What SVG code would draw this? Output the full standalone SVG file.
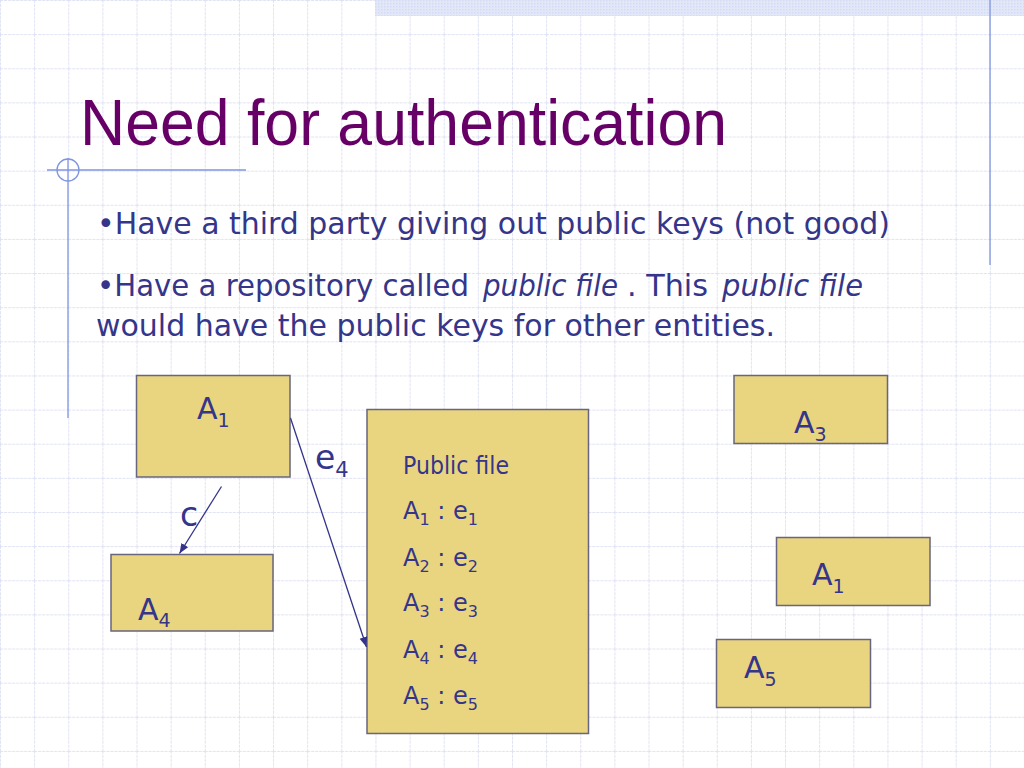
<svg xmlns="http://www.w3.org/2000/svg" width="1024" height="768" viewBox="0 0 1024 768">
  <defs>
    <pattern id="grid" patternUnits="userSpaceOnUse" width="34.133" height="34.133">
      <line x1="0" y1="0.5" x2="34.133" y2="0.5" stroke="#dfe2f4" stroke-width="1" stroke-dasharray="3 1"/>
      <line x1="0.5" y1="0" x2="0.5" y2="34.133" stroke="#dfe2f4" stroke-width="1" stroke-dasharray="3 1"/>
    </pattern>
    <pattern id="dots" patternUnits="userSpaceOnUse" width="3" height="3">
      <rect width="3" height="3" fill="#e3e8f9"/>
      <rect width="1.5" height="1.5" fill="#d3dbf5"/>
    </pattern>
    <marker id="arrow" markerUnits="userSpaceOnUse" markerWidth="12" markerHeight="10" refX="10" refY="4" orient="auto">
      <path d="M0,0 L10,4 L0,8 Z" fill="#33338a"/>
    </marker>
    <style>
      .txt { font-family: "DejaVu Sans", "Noto Sans", sans-serif; fill: #35358a; }
      .title { font-family: "Liberation Sans", "DejaVu Sans", sans-serif; fill: #660066; }
      .box { fill: #e9d47f; stroke: #67667e; stroke-width: 1.5; }
      .lbl { font-size: 30px; }
      .sub { font-size: 19px; }
      .pf { font-size: 24px; }
      .pfs { font-size: 16px; }
      .deco { stroke: #7f95e0; stroke-width: 1.3; fill: none; }
      .conn { stroke: #33338a; stroke-width: 1.3; fill: none; }
    </style>
  </defs>

  <g id="background">
    <rect width="1024" height="768" fill="#ffffff"/>
    <rect width="1024" height="768" fill="url(#grid)"/>
    <rect x="375" y="0" width="649" height="16" fill="url(#dots)"/>
    <line class="deco" x1="990" y1="0" x2="990" y2="265"/>
    <line class="deco" x1="47" y1="170" x2="246" y2="170"/>
    <line class="deco" x1="68" y1="158" x2="68" y2="418"/>
    <circle class="deco" cx="68" cy="170" r="11"/>
  </g>

  <g id="heading">
    <text class="title" x="80" y="145" font-size="64" textLength="647" lengthAdjust="spacingAndGlyphs">Need for authentication</text>
    <text class="txt" x="97" y="234" font-size="31" textLength="793" lengthAdjust="spacingAndGlyphs">•Have a third party giving out public keys (not good)</text>
    <text class="txt" x="97" y="296" font-size="31" textLength="372" lengthAdjust="spacingAndGlyphs">•Have a repository called</text>
    <text class="txt" x="483" y="296" font-size="31" font-style="italic" textLength="135" lengthAdjust="spacingAndGlyphs">public file</text>
    <text class="txt" x="627" y="296" font-size="31" textLength="81" lengthAdjust="spacingAndGlyphs">. This</text>
    <text class="txt" x="722" y="296" font-size="31" font-style="italic" textLength="141" lengthAdjust="spacingAndGlyphs">public file</text>
    <text class="txt" x="96" y="336" font-size="31" textLength="679" lengthAdjust="spacingAndGlyphs">would have the public keys for other entities.</text>
  </g>

  <g id="node-A1-left">
    <rect class="box" x="136.5" y="375.5" width="153.5" height="101.5"/>
    <text class="txt lbl" x="197" y="419">A<tspan class="sub" dy="8">1</tspan></text>
  </g>

  <g id="node-A4">
    <rect class="box" x="111" y="554.5" width="162" height="76.5"/>
    <text class="txt lbl" x="138" y="620">A<tspan class="sub" dy="7">4</tspan></text>
  </g>

  <g id="node-public-file">
    <rect class="box" x="367" y="409.5" width="221.5" height="324"/>
    <text class="txt pf" x="403" y="474" textLength="106" lengthAdjust="spacingAndGlyphs">Public file</text>
    <text class="txt pf" x="403" y="519">A<tspan class="pfs" dy="6">1</tspan><tspan dy="-6"> : e</tspan><tspan class="pfs" dy="6">1</tspan></text>
    <text class="txt pf" x="403" y="566">A<tspan class="pfs" dy="6">2</tspan><tspan dy="-6"> : e</tspan><tspan class="pfs" dy="6">2</tspan></text>
    <text class="txt pf" x="403" y="611">A<tspan class="pfs" dy="6">3</tspan><tspan dy="-6"> : e</tspan><tspan class="pfs" dy="6">3</tspan></text>
    <text class="txt pf" x="403" y="658">A<tspan class="pfs" dy="6">4</tspan><tspan dy="-6"> : e</tspan><tspan class="pfs" dy="6">4</tspan></text>
    <text class="txt pf" x="403" y="704">A<tspan class="pfs" dy="6">5</tspan><tspan dy="-6"> : e</tspan><tspan class="pfs" dy="6">5</tspan></text>
  </g>

  <g id="node-A3">
    <rect class="box" x="734" y="375.5" width="153.5" height="68"/>
    <text class="txt lbl" x="794" y="433">A<tspan class="sub" dy="8">3</tspan></text>
  </g>

  <g id="node-A1-right">
    <rect class="box" x="776.5" y="537.5" width="153.5" height="68"/>
    <text class="txt lbl" x="812" y="585">A<tspan class="sub" dy="8">1</tspan></text>
  </g>

  <g id="node-A5">
    <rect class="box" x="716.5" y="639.5" width="154" height="68"/>
    <text class="txt lbl" x="744" y="678">A<tspan class="sub" dy="8">5</tspan></text>
  </g>

  <g id="connectors">
    <line class="conn" x1="290.5" y1="418" x2="366.5" y2="647" marker-end="url(#arrow)"/>
    <line class="conn" x1="221.5" y1="486.5" x2="179.5" y2="553.5" marker-end="url(#arrow)"/>
    <text class="txt" x="315" y="469" font-size="33">e<tspan font-size="21" dy="8">4</tspan></text>
    <text class="txt" x="180" y="526" font-size="33">c</text>
  </g>
</svg>
